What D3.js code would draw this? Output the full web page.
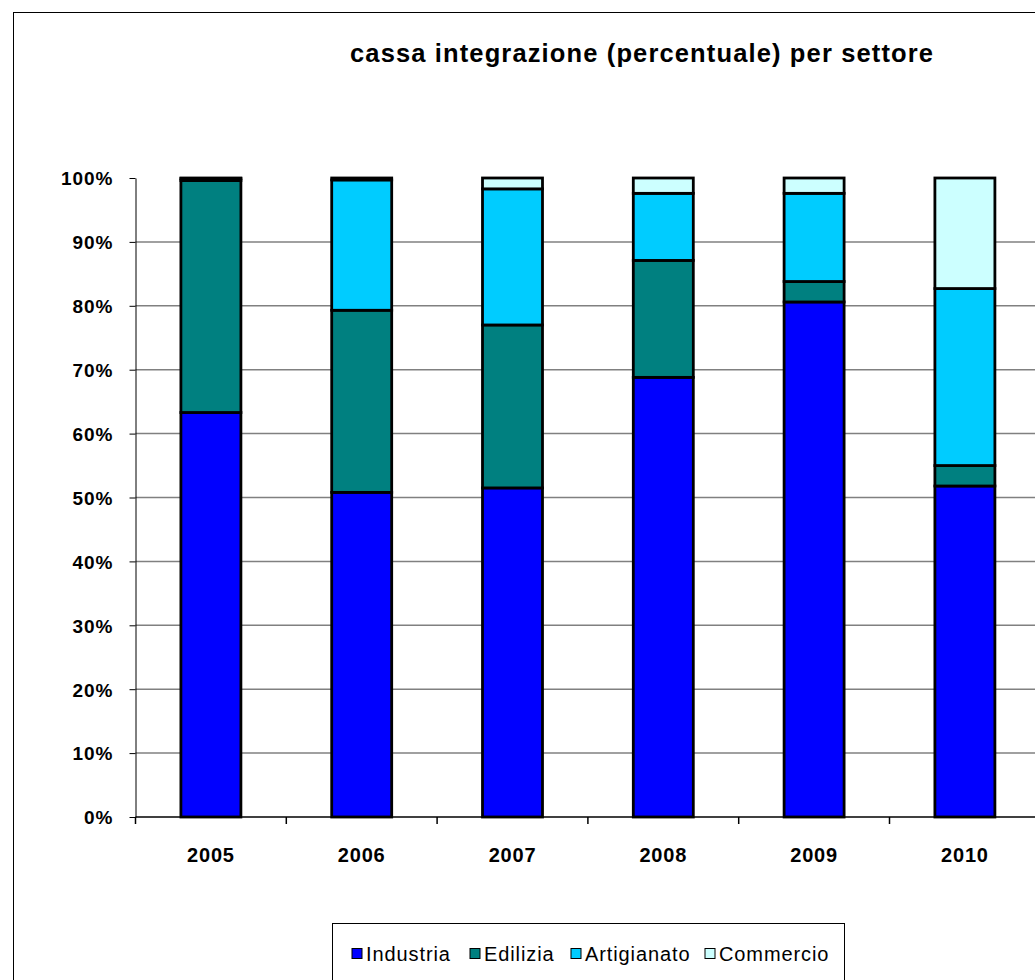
<!DOCTYPE html>
<html>
<head>
<meta charset="utf-8">
<script src="https://cdn.jsdelivr.net/npm/d3@7"></script>
<style>
  html, body { margin: 0; padding: 0; background: #fff; }
  svg { display: block; }
  text { font-family: "Liberation Sans", Arial, sans-serif; }
</style>
</head>
<body>
<svg id="chart" width="1035" height="980"></svg>
<script>
// Share of cassa integrazione by sector, per year (percent)
const years = ["2005", "2006", "2007", "2008", "2009", "2010"];
const sectors = ["Industria", "Edilizia", "Artigianato", "Commercio"];
const industria   = [63.3, 50.8, 51.5, 68.8, 80.6, 51.8];
const edilizia    = [36.3, 28.5, 25.5, 18.3,  3.2,  3.2];
const artigianato = [ 0.3, 20.4, 21.3, 10.5, 13.8, 27.7];
const commercio   = [ 0.1,  0.3,  1.7,  2.4,  2.4, 17.3];
const colors = ["#0000ff", "#008080", "#00ccff", "#ccffff"];
const yTicks = [0, 10, 20, 30, 40, 50, 60, 70, 80, 90, 100];

const rows = years.map((y, i) => ({
  year: y,
  Industria: industria[i],
  Edilizia: edilizia[i],
  Artigianato: artigianato[i],
  Commercio: commercio[i]
}));
const stacked = d3.stack().keys(sectors)(rows);

const svg = d3.select("#chart");

// outer chart frame
svg.append("rect")
  .attr("x", 13.5).attr("y", 12.5)
  .attr("width", 1100).attr("height", 1100)
  .attr("fill", "#fff").attr("stroke", "#000").attr("stroke-width", 1);

svg.append("text")
  .attr("x", 350).attr("y", 62)
  .attr("textLength", 583).attr("lengthAdjust", "spacing")
  .style("font-size", "25.5px").style("font-weight", "bold")
  .text("cassa integrazione (percentuale) per settore");

const x0 = 135.5, bandW = 150.8;
const x = d3.scaleBand().domain(years)
  .range([x0, x0 + bandW * years.length])
  .paddingInner(0).paddingOuter(0);
const y = d3.scaleLinear().domain([0, 100]).range([817, 178]);

// gridlines
svg.append("g").selectAll("line")
  .data(yTicks.filter(t => t > 0 && t < 100))
  .join("line")
  .attr("x1", x0).attr("x2", 1035)
  .attr("y1", d => y(d)).attr("y2", d => y(d))
  .attr("stroke", "#808080").attr("stroke-width", 1.5);

// y axis
const yAxis = svg.append("g")
  .attr("transform", `translate(${x0},0)`)
  .call(d3.axisLeft(y).tickValues(yTicks).tickFormat(d => d + "%").tickSize(6).tickSizeOuter(0));
yAxis.select(".domain").attr("stroke", "#000").attr("stroke-width", 1);
yAxis.selectAll(".tick line").attr("stroke", "#000");
yAxis.selectAll("text")
  .attr("x", -22)
  .attr("dy", "0.36em")
  .style("font-size", "19px").style("font-weight", "bold")
  .style("letter-spacing", "1px")
  .style("font-family", "'Liberation Sans', Arial, sans-serif")
  .attr("fill", "#000");

// bars
const barW = 60;
svg.append("g").selectAll("g")
  .data(stacked)
  .join("g")
  .attr("fill", (d, i) => colors[i])
  .selectAll("rect")
  .data(d => d)
  .join("rect")
  .attr("x", d => x(d.data.year) + x.bandwidth() / 2 - barW / 2)
  .attr("width", barW)
  .attr("y", d => y(d[1]))
  .attr("height", d => y(d[0]) - y(d[1]))
  .attr("stroke", "#000").attr("stroke-width", 2.8);

// x axis
const xAxisG = svg.append("g").attr("transform", "translate(0,817)");
xAxisG.append("line")
  .attr("x1", x0).attr("x2", 1035).attr("y1", 0).attr("y2", 0)
  .attr("stroke", "#000").attr("stroke-width", 1.5);
xAxisG.selectAll("line.tick")
  .data(d3.range(years.length + 1))
  .join("line").attr("class", "tick")
  .attr("x1", i => x0 + i * bandW).attr("x2", i => x0 + i * bandW)
  .attr("y1", 0).attr("y2", 7)
  .attr("stroke", "#000").attr("stroke-width", 1.5);
xAxisG.selectAll("text")
  .data(years)
  .join("text")
  .attr("x", d => x(d) + x.bandwidth() / 2)
  .attr("y", 45)
  .attr("text-anchor", "middle")
  .style("font-size", "20px").style("font-weight", "bold")
  .style("letter-spacing", "0.8px")
  .text(d => d);

// legend
const legend = svg.append("g");
legend.append("rect")
  .attr("x", 332.5).attr("y", 923.5)
  .attr("width", 512).attr("height", 80)
  .attr("fill", "#fff").attr("stroke", "#000").attr("stroke-width", 1);
const legendX = [352, 470, 571, 705];
sectors.forEach((s, i) => {
  legend.append("rect")
    .attr("x", legendX[i]).attr("y", 948.5)
    .attr("width", 10).attr("height", 10)
    .attr("fill", colors[i]).attr("stroke", "#000").attr("stroke-width", 1);
  legend.append("text")
    .attr("x", legendX[i] + 14).attr("y", 961)
    .style("font-size", "20px")
    .style("letter-spacing", "0.9px")
    .text(s);
});
</script>
</body>
</html>
